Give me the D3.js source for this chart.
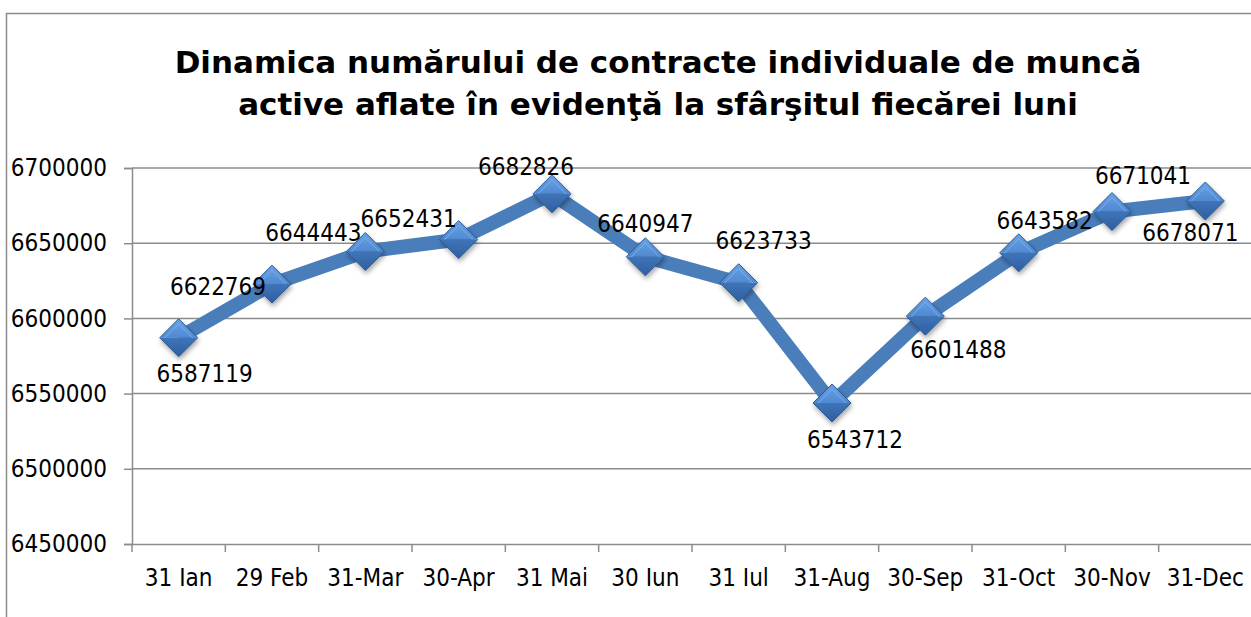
<!DOCTYPE html>
<html>
<head>
<meta charset="utf-8">
<script src="https://cdn.jsdelivr.net/npm/d3@7"></script>
<style>
  html, body { margin: 0; padding: 0; background: #fff; overflow: hidden; }
  svg { display: block; font-family: "DejaVu Sans Condensed", "DejaVu Sans", sans-serif; }
</style>
</head>
<body>
<div id="chart"></div>
<script>
// Data
const categories = ['31 Ian', '29 Feb', '31-Mar', '30-Apr', '31 Mai', '30 Iun',
  '31 Iul', '31-Aug', '30-Sep', '31-Oct', '30-Nov', '31-Dec'];
const contracts = [6587119, 6622769, 6644443, 6652431, 6682826, 6640947,
  6623733, 6543712, 6601488, 6643582, 6671041, 6678071];
const yTicks = [6450000, 6500000, 6550000, 6600000, 6650000, 6700000];
const titleLines = ['Dinamica numărului de contracte individuale de muncă',
  'active aflate în evidenţă la sfârşitul fiecărei luni'];

// Where each data label sits relative to its point (px), as in the original
const labelOffset = [
  [26, 36], [-54, 2], [-52, -19], [-50, -21], [-26, -27], [0, -33],
  [25, -42], [23, 36], [33, 33], [26, -32], [31, -36], [-15, 31]
];

const width = 1251, height = 617;
const margin = {top: 168, right: -1, bottom: 73, left: 132};

const svg = d3.select('#chart').append('svg')
  .attr('width', width)
  .attr('height', height)
  .attr('viewBox', [0, 0, width, height]);

// chart frame
svg.append('rect')
  .attr('x', 6.5).attr('y', 13.5)
  .attr('width', width + 10).attr('height', height + 10)
  .attr('fill', 'none')
  .attr('stroke', '#8c8c8c')
  .attr('stroke-width', 1.5);

// title
svg.append('text')
  .attr('x', 658)
  .attr('y', 73)
  .attr('text-anchor', 'middle')
  .style('font-family', '"DejaVu Sans", sans-serif')
  .style('font-weight', 'bold')
  .style('font-size', '31px')
  .style('fill', '#000')
  .selectAll('tspan')
  .data(titleLines)
  .enter().append('tspan')
  .attr('x', 658)
  .attr('dy', (d, i) => i ? 42 : 0)
  .text(d => d);

const x = d3.scaleBand()
  .domain(categories)
  .range([margin.left, width - margin.right]);

const y = d3.scaleLinear()
  .domain([6450000, 6700000])
  .range([height - margin.bottom, margin.top]);

// gridlines
svg.append('g')
  .selectAll('line')
  .data(yTicks.slice(1))
  .enter().append('line')
  .attr('x1', margin.left)
  .attr('x2', width)
  .attr('y1', d => y(d))
  .attr('y2', d => y(d))
  .attr('stroke', '#8c8c8c')
  .attr('stroke-width', 1.5);

// y axis
const yAxis = svg.append('g')
  .attr('transform', `translate(${margin.left},0)`)
  .call(d3.axisLeft(y).tickValues(yTicks).tickSize(8).tickPadding(17).tickFormat(d3.format('d')));

// x axis
const xAxis = svg.append('g')
  .attr('transform', `translate(0,${height - margin.bottom})`)
  .call(d3.axisBottom(x).tickSize(0).tickPadding(25));

// category tick marks sit between categories
xAxis.selectAll('.boundary')
  .data(categories)
  .enter().append('line')
  .attr('class', 'boundary')
  .attr('x1', d => x(d))
  .attr('x2', d => x(d))
  .attr('y1', 0)
  .attr('y2', 8);

[yAxis, xAxis].forEach(g => {
  g.selectAll('.domain').attr('stroke', '#8c8c8c').attr('stroke-width', 1.5);
  g.selectAll('line').attr('stroke', '#8c8c8c').attr('stroke-width', 1.5);
  g.selectAll('text')
    .style('font-size', '24px')
    .style('font-family', '"DejaVu Sans Condensed", "DejaVu Sans", sans-serif')
    .attr('fill', '#000');
});
xAxis.select('.domain').attr('d', `M${margin.left},0.5H${width}`);

const cx = (d, i) => x(categories[i]) + x.bandwidth() / 2;

// marker shading
const defs = svg.append('defs');
const topGrad = defs.append('linearGradient').attr('id', 'mkTop')
  .attr('x1', 0).attr('y1', 0).attr('x2', 0).attr('y2', 1);
topGrad.append('stop').attr('offset', '0%').attr('stop-color', '#6aa2e6');
topGrad.append('stop').attr('offset', '100%').attr('stop-color', '#4f89d0');
const botGrad = defs.append('linearGradient').attr('id', 'mkBot')
  .attr('x1', 0).attr('y1', 0).attr('x2', 0).attr('y2', 1);
botGrad.append('stop').attr('offset', '0%').attr('stop-color', '#3f74b9');
botGrad.append('stop').attr('offset', '100%').attr('stop-color', '#2f5f9e');
defs.append('filter').attr('id', 'shadow')
  .attr('x', '-50%').attr('y', '-50%').attr('width', '200%').attr('height', '200%')
  .append('feDropShadow')
  .attr('dx', 1).attr('dy', 3).attr('stdDeviation', 2.5)
  .attr('flood-color', '#000').attr('flood-opacity', 0.35);

// line
const line = d3.line()
  .x((d, i) => cx(d, i))
  .y(d => y(d));

svg.append('path')
  .datum(contracts)
  .attr('d', line)
  .attr('fill', 'none')
  .attr('stroke', '#4a7ebb')
  .attr('stroke-width', 14)
  .attr('stroke-linejoin', 'round');

// diamond markers
const r = 19;
const markers = svg.append('g')
  .selectAll('g')
  .data(contracts)
  .enter().append('g')
  .attr('transform', (d, i) => `translate(${cx(d, i)},${y(d)})`)
  .attr('filter', 'url(#shadow)');

markers.append('path')
  .attr('d', `M${-r},0L0,${-r}L${r},0Z`)
  .attr('fill', 'url(#mkTop)');
markers.append('path')
  .attr('d', `M${-r},0L0,${r}L${r},0Z`)
  .attr('fill', 'url(#mkBot)');
markers.append('path')
  .attr('d', `M${-r},0L0,${-r}L${r},0L0,${r}Z`)
  .attr('fill', 'none')
  .attr('stroke', '#2c5a94')
  .attr('stroke-width', 1);
markers.append('path')
  .attr('d', `M${-r + 5},0L0,${-r + 5}L${r - 5},0`)
  .attr('fill', 'none')
  .attr('stroke', '#7fb2ee')
  .attr('stroke-opacity', 0.6)
  .attr('stroke-width', 1.2);

// data labels
svg.append('g')
  .selectAll('text')
  .data(contracts)
  .enter().append('text')
  .attr('x', (d, i) => cx(d, i) + labelOffset[i][0])
  .attr('y', (d, i) => y(d) + labelOffset[i][1])
  .attr('dy', '0.36em')
  .attr('text-anchor', 'middle')
  .style('font-size', '24px')
  .attr('fill', '#000')
  .text(d => d);
</script>
</body>
</html>
